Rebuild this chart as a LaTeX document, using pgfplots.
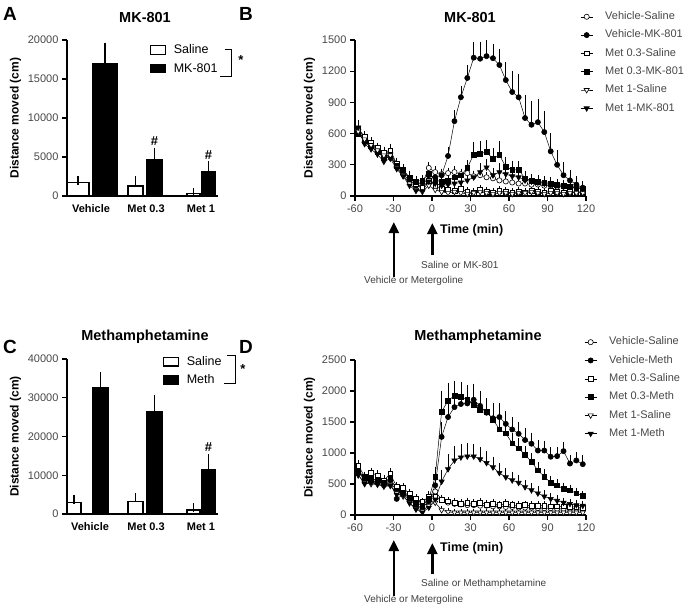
\documentclass[border=0pt]{standalone}
\usepackage{fontspec}
\setmainfont{Liberation Sans}
\usepackage{pgfplots}
\pgfplotsset{compat=1.18}
\usepackage{pgfplotstable}
\usetikzlibrary{arrows.meta}
\newcommand{\fs}[1]{\fontsize{#1}{#1}\selectfont}

\pgfplotstableread{
t vs vse vm vme ms mse mm mme hs hse hm hme
-57.5 640 40 610 50 650 40 600 40 620 40 660 50
-52.5 560 30 520 40 570 30 530 30 545 30 500 40
-47.5 500 30 470 30 510 30 480 30 490 30 450 30
-42.5 450 30 430 30 460 30 420 30 440 25 400 30
-37.5 400 30 360 30 420 30 380 30 390 30 330 50
-32.5 420 40 380 40 440 40 400 40 390 30 360 40
-27.5 300 30 280 30 310 30 290 30 270 30 260 30
-22.5 230 30 210 40 250 30 240 30 200 30 190 30
-17.5 170 30 150 30 180 40 170 30 120 30 100 30
-12.5 130 30 100 30 120 30 140 30 60 30 50 20
-7.5 120 30 90 30 80 30 150 30 40 20 50 20
-2.5 270 30 200 40 150 30 210 40 100 30 140 30
2.5 230 30 180 30 100 30 150 30 60 20 120 30
7.5 210 30 200 40 70 20 140 40 40 20 100 30
12.5 220 30 385 60 60 20 150 40 30 20 110 30
17.5 230 30 720 80 50 20 180 40 40 20 120 30
22.5 210 30 950 80 70 20 200 40 30 20 130 30
27.5 220 30 1135 100 40 20 270 50 20 20 150 40
32.5 190 30 1330 130 30 20 400 100 30 20 180 40
37.5 200 30 1320 140 60 20 405 100 40 20 230 60
42.5 180 30 1345 130 40 20 425 90 30 20 275 60
47.5 170 30 1325 110 30 20 355 80 20 20 200 50
52.5 150 30 1260 130 50 20 395 110 30 20 230 60
57.5 140 30 1115 150 40 20 280 70 30 20 210 60
62.5 130 30 1000 180 30 20 255 60 20 20 190 50
67.5 120 30 950 200 40 20 250 60 30 20 180 50
72.5 120 30 750 200 30 20 170 50 30 20 150 40
77.5 110 30 685 200 50 20 150 40 40 20 140 40
82.5 110 30 710 200 40 20 140 40 30 20 130 40
87.5 100 30 615 180 30 20 130 40 20 20 120 30
92.5 100 30 430 150 50 20 120 40 30 20 110 30
97.5 90 30 300 120 40 20 110 30 30 20 110 30
102.5 90 30 200 100 30 20 100 30 20 20 100 30
107.5 80 30 150 80 40 20 90 30 30 20 90 30
112.5 80 30 110 60 30 20 80 30 30 20 80 30
117.5 70 30 80 40 40 20 70 30 30 20 70 30
}\tabB

\pgfplotstableread{
t vs vse vm vme ms mse mm mme hs hse hm hme
-57.5 680 50 700 60 800 50 720 50 640 40 650 40
-52.5 600 40 560 40 620 40 600 40 520 30 500 40
-47.5 560 40 600 40 680 40 580 40 500 30 520 40
-42.5 520 40 540 40 640 40 560 40 490 30 500 40
-37.5 480 40 500 40 560 40 520 40 460 30 470 30
-32.5 520 40 560 50 660 50 600 50 470 30 480 40
-27.5 400 40 260 40 460 40 400 40 350 30 330 40
-22.5 380 40 330 40 440 40 360 40 300 30 320 30
-17.5 300 40 250 40 340 40 280 40 200 30 190 30
-12.5 240 40 150 30 260 40 200 30 100 30 90 30
-7.5 200 30 120 30 210 30 150 30 60 30 40 20
-2.5 250 40 220 40 300 40 260 40 150 30 120 30
2.5 380 40 480 80 300 40 620 120 200 30 250 60
7.5 250 40 1260 200 240 40 1666 300 80 20 540 150
12.5 200 30 1580 220 220 30 1844 250 50 20 740 200
17.5 180 30 1740 200 200 30 1925 200 40 20 880 200
22.5 170 30 1790 220 180 30 1909 200 40 20 930 180
27.5 160 30 1800 200 200 40 1855 200 40 20 945 180
32.5 160 30 1860 220 180 30 1774 200 40 20 945 160
37.5 150 30 1760 200 200 30 1693 200 40 20 900 150
42.5 150 30 1650 180 170 30 1666 180 40 20 840 150
47.5 140 30 1560 200 180 30 1542 180 40 20 770 120
52.5 140 30 1580 180 160 30 1382 150 40 20 680 120
57.5 130 30 1470 170 180 30 1318 150 40 20 610 100
62.5 130 30 1380 160 160 30 1156 120 40 20 560 100
67.5 120 30 1310 150 150 30 1076 120 40 20 520 90
72.5 120 30 1210 150 160 30 968 100 40 20 450 80
77.5 120 30 1150 140 150 30 860 100 40 20 400 80
82.5 110 30 1040 130 150 30 720 90 40 20 350 70
87.5 110 30 1040 120 150 30 620 80 40 20 300 60
92.5 110 30 940 120 140 30 520 70 40 20 260 50
97.5 100 30 950 110 140 30 480 60 40 20 230 50
102.5 100 30 1030 110 140 30 420 60 40 20 200 40
107.5 100 30 830 100 130 30 400 50 40 20 180 40
112.5 100 30 880 100 130 30 350 50 40 20 160 40
117.5 90 30 820 100 120 30 310 40 40 20 150 40
}\tabD

\pgfplotsset{
 gp/.style={
  scale only axis, anchor=south west,
  axis x line=bottom, axis y line=left,
  axis line style={-, line width=1.6pt, black},
  tick style={black, line width=1.2pt},
  tick align=outside, major tick length=5pt,
  tick label style={font=\fs{11}, text=black!72},
  scaled y ticks=false, scaled x ticks=false,
  enlargelimits=false, clip=false,
  ylabel style={font=\bfseries\fs{12}, text=black},
  error bars/y dir=plus, error bars/y explicit,
 },
 barax/.style={gp,
  xmin=67, xmax=218,
  major x tick style=transparent,
  xticklabel style={font=\bfseries\fs{11}, text=black},
  error bars/error bar style={line width=1.2pt},
  error bars/error mark options={line width=1.2pt, mark size=4.5pt},
  legend style={draw=none, fill=none, inner sep=0pt, row sep=3pt, font=\fs{12.5}, legend cell align=left, nodes={inner sep=2pt, text height=9pt, text depth=2.5pt}},
 },
 wb/.style={ybar, bar shift=0pt, fill=white, draw=black, line width=1.3pt, forget plot},
 bb/.style={ybar, bar shift=0pt, fill=black, draw=black, line width=1.3pt, forget plot},
 tcax/.style={gp,
  xmin=-60, xmax=120, xtick={-60,-30,0,30,60,90,120}, xticklabels={-60,-30,0,30,60,90,120},
  error bars/error bar style={line width=0.6pt},
  error bars/error mark options={line width=0.6pt, mark size=2.5pt},
  legend style={draw=none, fill=none, inner sep=0pt, row sep=4.8pt, font=\fs{11}, legend cell align=left, nodes={inner sep=1.5pt, text=black!72, text height=8pt, text depth=2.5pt}},
  legend image code/.code={\draw[mark repeat=2,mark phase=2,##1] plot coordinates {(0pt,0pt) (6pt,0pt) (12pt,0pt)}; \path[draw=none,fill=none] (0pt,0pt) -- (23pt,0pt);},
 },
 tc/.style={black, line width=0.5pt, mark size=2.6pt},
 oc/.style={tc, mark=*, mark options={fill=white, solid, line width=0.6pt}},
 fc/.style={tc, mark=*, mark options={fill=black, solid, line width=0.6pt}},
 os/.style={tc, mark=square*, mark size=2.4pt, mark options={fill=white, solid, line width=0.6pt}},
 fsq/.style={tc, mark=square*, mark size=2.4pt, mark options={fill=black, solid, line width=0.6pt}},
 ot/.style={tc, mark=triangle*, mark size=3pt, mark options={fill=white, rotate=180, solid, line width=0.6pt}},
 ft/.style={tc, mark=triangle*, mark size=3pt, mark options={fill=black, rotate=180, solid, line width=0.6pt}},
 wbox/.style={legend image code/.code={\draw[fill=white,draw=black,line width=1.2pt] (0pt,-4pt) rectangle (15pt,4.5pt); \path[draw=none,fill=none] (0pt,0pt) -- (21pt,0pt);}},
 bbox/.style={legend image code/.code={\draw[fill=black,draw=black,line width=1.2pt] (0pt,-4pt) rectangle (15pt,4.5pt); \path[draw=none,fill=none] (0pt,0pt) -- (21pt,0pt);}},
}

\begin{document}
\begin{tikzpicture}[x=1pt,y=1pt]
\path[use as bounding box] (0,0) rectangle (685,-606);

% ---------------- Panel A
\begin{axis}[barax, at={(67pt,-196pt)}, width=151pt, height=156pt,
  ymin=0, ymax=20000, ytick={0,5000,10000,15000,20000}, yticklabels={0,5000,10000,15000,20000},
  xtick={91,146,201}, xticklabels={Vehicle,Met 0.3,Met 1},
  ylabel={Distance moved (cm)},
  legend style={at={(axis cs:150,19700)}, anchor=north west}]
\addplot[wb, bar width=22] coordinates {(78,1700) +- (0,300)};
\addplot[bb, bar width=24] coordinates {(105,17000) +- (0,2100)};
\addplot[wb, bar width=15] coordinates {(135.5,1300) +- (0,700)};
\addplot[bb, bar width=15] coordinates {(154.5,4600) +- (0,1000)};
\addplot[wb, bar width=13] coordinates {(193.5,300) +- (0,100)};
\addplot[bb, bar width=13] coordinates {(208.5,3100) +- (0,800)};
\addlegendimage{wbox}
\addlegendentry{Saline}
\addlegendimage{bbox}
\addlegendentry{MK-801}
\node[font=\bfseries\fs{13}] at (axis cs:154.5,7000) {\#};
\node[font=\bfseries\fs{13}] at (axis cs:208.5,5200) {\#};
\end{axis}

% ---------------- Panel C
\begin{axis}[barax, at={(67pt,-514pt)}, width=151pt, height=155pt,
  ymin=0, ymax=40000, ytick={0,10000,20000,30000,40000}, yticklabels={0,10000,20000,30000,40000},
  xtick={90,146,201}, xticklabels={Vehicle,Met 0.3,Met 1},
  ylabel={Distance moved (cm)},
  legend style={at={(axis cs:163,41300)}, anchor=north west}]
\addplot[wb, bar width=14] coordinates {(74,3000) +- (0,700)};
\addplot[bb, bar width=15] coordinates {(100.5,32500) +- (0,3000)};
\addplot[wb, bar width=15] coordinates {(135.5,3300) +- (0,1000)};
\addplot[bb, bar width=15] coordinates {(154.5,26500) +- (0,3000)};
\addplot[wb, bar width=13] coordinates {(193.5,1000) +- (0,600)};
\addplot[bb, bar width=13] coordinates {(208.5,11500) +- (0,2700)};
\addlegendimage{wbox}
\addlegendentry{Saline}
\addlegendimage{bbox}
\addlegendentry{Meth}
\node[font=\bfseries\fs{13}] at (axis cs:208.5,17300) {\#};
\end{axis}

% ---------------- Panel B
\begin{axis}[tcax, at={(355pt,-196pt)}, width=231pt, height=156pt,
  ymin=0, ymax=1500, ytick={0,300,600,900,1200,1500}, yticklabels={0,300,600,900,1200,1500},
  ylabel={Distance moved (cm)},
  legend style={at={(axis cs:115.5,1790)}, anchor=north west}]
\addplot[oc] table[x=t, y=vs, y error=vse] {\tabB}; \addlegendentry{Vehicle-Saline}
\addplot[fc] table[x=t, y=vm, y error=vme] {\tabB}; \addlegendentry{Vehicle-MK-801}
\addplot[os] table[x=t, y=ms, y error=mse] {\tabB}; \addlegendentry{Met 0.3-Saline}
\addplot[fsq] table[x=t, y=mm, y error=mme] {\tabB}; \addlegendentry{Met 0.3-MK-801}
\addplot[ot] table[x=t, y=hs, y error=hse] {\tabB}; \addlegendentry{Met 1-Saline}
\addplot[ft] table[x=t, y=hm, y error=hme] {\tabB}; \addlegendentry{Met 1-MK-801}
\end{axis}

% ---------------- Panel D
\begin{axis}[tcax, at={(355pt,-515pt)}, width=231pt, height=155pt,
  ymin=0, ymax=2500, ytick={0,500,1000,1500,2000,2500}, yticklabels={0,500,1000,1500,2000,2500},
  ylabel={Distance moved (cm)},
  legend style={at={(axis cs:118.6,2900)}, anchor=north west}]
\addplot[oc] table[x=t, y=vs, y error=vse] {\tabD}; \addlegendentry{Vehicle-Saline}
\addplot[fc] table[x=t, y=vm, y error=vme] {\tabD}; \addlegendentry{Vehicle-Meth}
\addplot[os] table[x=t, y=ms, y error=mse] {\tabD}; \addlegendentry{Met 0.3-Saline}
\addplot[fsq] table[x=t, y=mm, y error=mme] {\tabD}; \addlegendentry{Met 0.3-Meth}
\addplot[ot] table[x=t, y=hs, y error=hse] {\tabD}; \addlegendentry{Met 1-Saline}
\addplot[ft] table[x=t, y=hm, y error=hme] {\tabD}; \addlegendentry{Met 1-Meth}
\end{axis}

% ---------------- annotations
\node[font=\bfseries\fs{19}] at (10,-14) {A};
\node[font=\bfseries\fs{19}] at (246,-14) {B};
\node[font=\bfseries\fs{19}] at (10,-347) {C};
\node[font=\bfseries\fs{19}] at (246,-347) {D};
\node[font=\bfseries\fs{14.5}] at (145,-18) {MK-801};
\node[font=\bfseries\fs{14.5}] at (470,-18) {MK-801};
\node[font=\bfseries\fs{14.5}] at (145,-337) {Methamphetamine};
\node[font=\bfseries\fs{14.5}] at (478,-337) {Methamphetamine};

% brackets
\draw[line width=1pt] (225,-49) -- (231,-49) -- (231,-76) -- (220,-76);
\node[font=\bfseries\fs{13}] at (241,-60) {*};
\draw[line width=1pt] (227,-355) -- (235,-355) -- (235,-383) -- (224,-383);
\node[font=\bfseries\fs{13}] at (243,-369) {*};

% arrows B
\draw[line width=2.6pt, -{Triangle[width=10pt,length=11pt]}] (393.8,-277) -- (393.8,-222);
\draw[line width=2.6pt, -{Triangle[width=10pt,length=11pt]}] (432.3,-255) -- (432.3,-223);
\node[font=\bfseries\fs{12.5}, anchor=west, inner sep=0pt] at (440,-230) {Time (min)};
\node[font=\fs{10}, text=black!75, anchor=west, inner sep=0pt] at (421,-265) {Saline or MK-801};
\node[font=\fs{10}, text=black!75, anchor=west, inner sep=0pt] at (364,-281) {Vehicle or Metergoline};
% arrows D
\draw[line width=2.6pt, -{Triangle[width=10pt,length=11pt]}] (393.8,-596) -- (393.8,-540);
\draw[line width=2.6pt, -{Triangle[width=10pt,length=11pt]}] (432.3,-574) -- (432.3,-543);
\node[font=\bfseries\fs{12.5}, anchor=west, inner sep=0pt] at (440,-548) {Time (min)};
\node[font=\fs{10}, text=black!75, anchor=west, inner sep=0pt] at (421,-584) {Saline or Methamphetamine};
\node[font=\fs{10}, text=black!75, anchor=west, inner sep=0pt] at (364,-600) {Vehicle or Metergoline};
\end{tikzpicture}
\end{document}
